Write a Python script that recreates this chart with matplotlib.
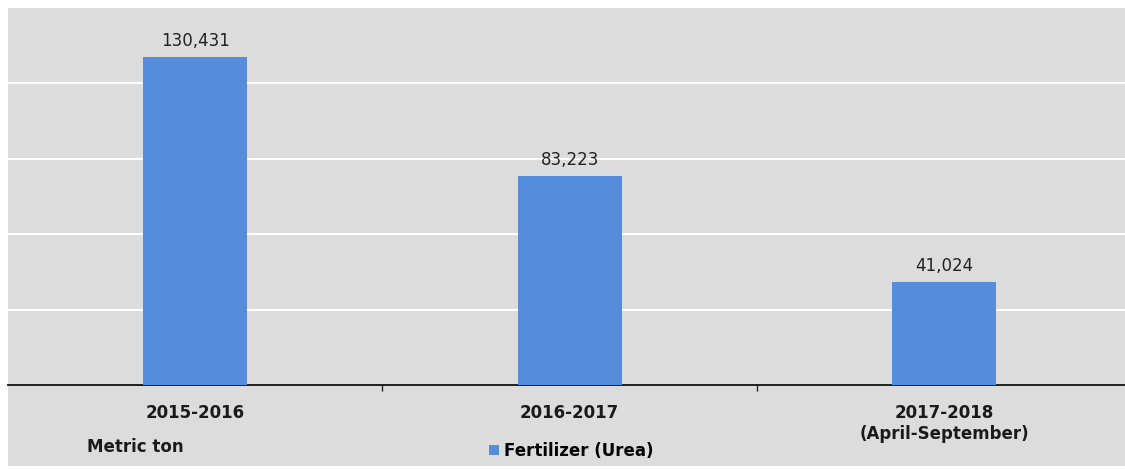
import matplotlib.pyplot as plt
from matplotlib.patches import Rectangle

plt.rcParams['font.family'] = ['DejaVu Sans']

# --- Dados ---
categorias = ['2015-2016', '2016-2017', '2017-2018\n(April-September)']
valores = [130431, 83223, 41024]
rotulos = ['130,431', '83,223', '41,024']
serie = 'Fertilizer (Urea)'
unidade = 'Metric ton'

W, H = 1125, 469
fig = plt.figure(figsize=(W / 100, H / 100), dpi=100)
fig.patch.set_facecolor('white')

# fundo cinza da figura inteira (com uma pequena borda branca)
fig.patches.append(Rectangle((8 / W, 3 / H), 1 - 8 / W, (461 - 3) / H,
                             transform=fig.transFigure, facecolor='#dcdcdc',
                             edgecolor='none', zorder=-5))

ax = fig.add_axes([8 / W, (H - 385) / H, (W - 8) / W, (385 - 8) / H])
ax.set_facecolor('#dcdcdc')

x = range(len(categorias))
barras = ax.bar(x, valores, width=0.278, color='#558dda', zorder=3, label=serie)

for b, txt in zip(barras, rotulos):
    ax.annotate(txt, (b.get_x() + b.get_width() / 2, b.get_height()),
                xytext=(0, 5), textcoords='offset points', ha='center', va='bottom',
                fontsize=12, color='#222222')

ax.set_xlim(-0.5, 2.483)
ax.set_ylim(0, 150000)
ax.set_yticks([30000, 60000, 90000, 120000])
ax.yaxis.grid(True, color='white', linewidth=1.5, zorder=1)
ax.tick_params(axis='y', length=0, labelleft=False)

ax.set_xticks(list(x))
ax.set_xticklabels(categorias, fontsize=12, fontweight='bold', color='#1a1a1a',
                   linespacing=1.2)
ax.set_xticks([0.5, 1.5], minor=True)
ax.tick_params(axis='x', which='major', length=0, pad=14)
ax.tick_params(axis='x', which='minor', length=4, width=1, color='#222222')

for s in ['top', 'right', 'left']:
    ax.spines[s].set_visible(False)
ax.spines['bottom'].set_color('#111111')
ax.spines['bottom'].set_linewidth(1.3)

fig.text(87 / W, 1 - 447 / H, unidade, fontsize=12, fontweight='bold',
         color='#1a1a1a', ha='left', va='center')

fig.legend(loc='center', bbox_to_anchor=(571 / W, 1 - 451 / H), frameon=False,
           handlelength=0.6, handleheight=0.6, handletextpad=0.3,
           prop={'size': 12, 'weight': 'bold'})

fig.savefig('out.png', dpi=100, facecolor=fig.get_facecolor())
